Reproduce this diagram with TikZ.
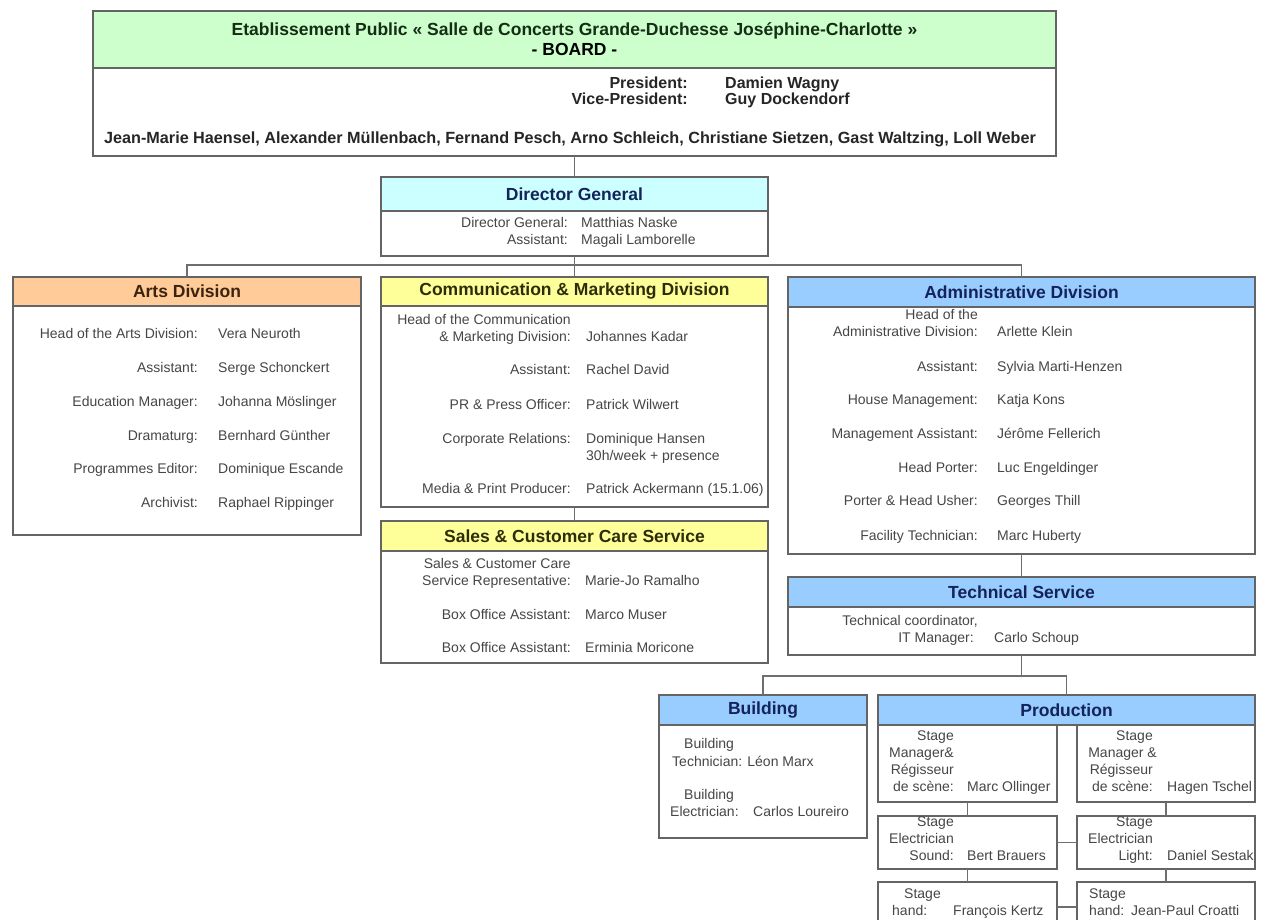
\documentclass[tikz,border=0pt]{standalone}
\usepackage{fontspec}
\setmainfont{Liberation Sans}
\definecolor{bordc}{RGB}{100,100,100}
\definecolor{connc}{RGB}{110,110,110}
\definecolor{greenH}{RGB}{204,255,204}
\definecolor{cyanH}{RGB}{204,255,255}
\definecolor{orangeH}{RGB}{255,204,153}
\definecolor{yellowH}{RGB}{255,255,153}
\definecolor{blueH}{RGB}{153,204,255}
\definecolor{navyT}{RGB}{20,35,90}
\definecolor{brownT}{RGB}{60,35,15}
\definecolor{oliveT}{RGB}{45,45,10}
\definecolor{greenT}{RGB}{20,45,20}
\definecolor{bodyT}{RGB}{70,70,70}
\newcommand{\fbody}{\fontsize{14}{17}\selectfont}
\newcommand{\fhead}{\fontsize{17.5}{20}\selectfont\bfseries}
\tikzset{
  bodybox/.style={draw=bordc, line width=1.3pt, fill=white, inner sep=0pt, outer sep=0pt},
  headbox/.style={draw=bordc, line width=1.3pt, inner sep=0pt, outer sep=0pt, font=\fhead, align=center},
  lab/.style={font=\fbody, text=bodyT, inner sep=0pt, text height=10pt, text depth=3pt},
  blab/.style={font=\fontsize{16}{17}\selectfont\bfseries, text=black!85, inner sep=0pt, text height=11pt, text depth=3pt},
  conn/.style={draw=connc, line width=1.2pt},
}
% name, x, y, width, total height, header height, fill, title
\newcommand{\orgbox}[8]{%
  \node[bodybox, minimum width=#4pt, minimum height=#5pt, anchor=north west] (#1) at (#2,#3) {};
  \node[headbox, fill=#7, minimum width=#4pt, minimum height=#6pt, anchor=north west] (#1H) at (#2,#3) {#8};
}
% name, label end, value start, y, label, value
\newcommand{\lrow}[6]{%
  \node[lab, anchor=east] (#1l) at (#2,#4) {#5};
  \node[lab, anchor=west] (#1v) at (#3,#4) {#6};
}
% right-aligned single text: name, x, y, text
\newcommand{\rtext}[4]{\node[lab, anchor=east] (#1) at (#2,#3) {#4};}
% left-aligned single text: name, x, y, text
\newcommand{\ltext}[4]{\node[lab, anchor=west] (#1) at (#2,#3) {#4};}
\begin{document}
\begin{tikzpicture}[x=1pt,y=-1pt]
\clip (0,0) rectangle (1265,920);
\fill[white] (0,0) rectangle (1265,920);

\coordinate (busA) at (574.5,265);
\coordinate (busB) at (1021.5,676);

% ---------- Board ----------
\orgbox{board}{93}{11}{963}{145}{57}{greenH}{\fontsize{17.5}{17}\selectfont\color{greenT}Etablissement Public « Salle de Concerts Grande-Duchesse Joséphine-Charlotte »\\ - BOARD -}
\node[blab, anchor=east] (presl) at (688,85) {President:};
\node[blab, anchor=west] (presv) at (725,85) {Damien Wagny};
\node[blab, anchor=east] (vicel) at (688,101) {Vice-President:};
\node[blab, anchor=west] (vicev) at (725,101) {Guy Dockendorf};
\node[blab, font=\fontsize{16.2}{17}\selectfont\bfseries] (members) at (570,140) {Jean-Marie Haensel, Alexander Müllenbach, Fernand Pesch, Arno Schleich, Christiane Sietzen, Gast Waltzing, Loll Weber};

% ---------- Director General ----------
\orgbox{dg}{381}{177}{387}{79}{34}{cyanH}{\color{navyT}Director General}
\lrow{dga}{568}{581}{224}{Director General:}{Matthias Naske}
\lrow{dgb}{568}{581}{241}{Assistant:}{Magali Lamborelle}

% ---------- Arts ----------
\orgbox{arts}{13}{277}{348}{258}{29}{orangeH}{\color{brownT}Arts Division}
\lrow{ara}{198}{218}{335}{Head of the Arts Division:}{Vera Neuroth}
\lrow{arb}{198}{218}{369}{Assistant:}{Serge Schonckert}
\lrow{arc}{198}{218}{403}{Education Manager:}{Johanna Möslinger}
\lrow{ard}{198}{218}{437}{Dramaturg:}{Bernhard Günther}
\lrow{are}{198}{218}{470}{Programmes Editor:}{Dominique Escande}
\lrow{arf}{198}{218}{504}{Archivist:}{Raphael Rippinger}

% ---------- Communication ----------
\orgbox{comm}{381}{277}{387}{230}{29}{yellowH}{\color{oliveT}Communication \& Marketing Division}
\rtext{cma0}{571}{321}{Head of the Communication}
\lrow{cma}{571}{586}{338}{\& Marketing Division:}{Johannes Kadar}
\lrow{cmb}{571}{586}{371}{Assistant:}{Rachel David}
\lrow{cmc}{571}{586}{406}{PR \& Press Officer:}{Patrick Wilwert}
\lrow{cmd}{571}{586}{440}{Corporate Relations:}{Dominique Hansen}
\ltext{cmd2}{586}{457}{30h/week + presence}
\lrow{cme}{571}{586}{490}{Media \& Print Producer:}{Patrick Ackermann (15.1.06)}

% ---------- Sales ----------
\orgbox{sales}{381}{521}{387}{142}{30}{yellowH}{\color{oliveT}Sales \& Customer Care Service}
\rtext{sla0}{571}{565}{Sales \& Customer Care}
\lrow{sla}{571}{585}{582}{Service Representative:}{Marie-Jo Ramalho}
\lrow{slb}{571}{585}{616}{Box Office Assistant:}{Marco Muser}
\lrow{slc}{571}{585}{649}{Box Office Assistant:}{Erminia Moricone}

% ---------- Administrative ----------
\orgbox{adm}{788}{277}{467}{277}{30}{blueH}{\color{navyT}Administrative Division}
\rtext{ada0}{978}{316}{Head of the}
\lrow{ada}{978}{997}{333}{Administrative Division:}{Arlette Klein}
\lrow{adb}{978}{997}{368}{Assistant:}{Sylvia Marti-Henzen}
\lrow{adc}{978}{997}{401}{House Management:}{Katja Kons}
\lrow{add}{978}{997}{435}{Management Assistant:}{Jérôme Fellerich}
\lrow{ade}{978}{997}{469}{Head Porter:}{Luc Engeldinger}
\lrow{adf}{978}{997}{502}{Porter \& Head Usher:}{Georges Thill}
\lrow{adg}{978}{997}{537}{Facility Technician:}{Marc Huberty}

% ---------- Technical ----------
\orgbox{tech}{788}{577}{467}{78}{30}{blueH}{\color{navyT}Technical Service}
\rtext{tca0}{978}{622}{Technical coordinator,}
\lrow{tca}{974}{994}{639}{IT Manager:}{Carlo Schoup}

% ---------- Building ----------
\orgbox{bld}{659}{695}{208}{143}{30}{blueH}{\color{navyT}Building}
\ltext{bda0}{684}{745}{Building}
\ltext{bda}{672}{763}{Technician: Léon Marx}
\ltext{bdb0}{684}{796}{Building}
\ltext{bdb}{670}{813}{Electrician:}
\ltext{bdbv}{753}{813}{Carlos Loureiro}

% ---------- Production ----------
\node[headbox, fill=blueH, minimum width=377pt, minimum height=30pt, anchor=north west] (prodH) at (878,695) {\color{navyT}Production};
\node[bodybox, minimum width=179pt, minimum height=77pt, anchor=north west] (p1L) at (878,725) {};
\node[bodybox, minimum width=178pt, minimum height=77pt, anchor=north west] (p1R) at (1077,725) {};
\node[bodybox, minimum width=179pt, minimum height=53pt, anchor=north west] (p2L) at (878,816) {};
\node[bodybox, minimum width=178pt, minimum height=53pt, anchor=north west] (p2R) at (1077,816) {};
\node[bodybox, minimum width=179pt, minimum height=50pt, anchor=north west] (p3L) at (878,882) {};
\node[bodybox, minimum width=178pt, minimum height=50pt, anchor=north west] (p3R) at (1077,882) {};

\rtext{p1La}{954}{737}{Stage}
\rtext{p1Lb}{954}{754}{Manager\&}
\rtext{p1Lc}{954}{771}{Régisseur}
\lrow{p1Ld}{954}{967}{788}{de scène:}{Marc Ollinger}
\rtext{p1Ra}{1153}{737}{Stage}
\rtext{p1Rb}{1157}{754}{Manager \&}
\rtext{p1Rc}{1153}{771}{Régisseur}
\lrow{p1Rd}{1153}{1167}{788}{de scène:}{Hagen Tschel}

\rtext{p2La}{954}{823}{Stage}
\rtext{p2Lb}{954}{840}{Electrician}
\lrow{p2Lc}{954}{967}{857}{Sound:}{Bert Brauers}
\rtext{p2Ra}{1153}{823}{Stage}
\rtext{p2Rb}{1153}{840}{Electrician}
\lrow{p2Rc}{1153}{1167}{857}{Light:}{Daniel Sestak}

\ltext{p3La}{904}{895}{Stage}
\ltext{p3Lb}{892}{912}{hand:}
\ltext{p3Lv}{953}{912}{François Kertz}
\ltext{p3Ra}{1089}{895}{Stage}
\ltext{p3Rb}{1089}{912}{hand:}
\ltext{p3Rv}{1131}{912}{Jean-Paul Croatti}

% ---------- connectors ----------
\draw[conn] (board.south) -- (dgH.north);
\draw[conn] (dg.south) -- (busA);
\draw[conn] (busA) -| (artsH.north);
\draw[conn] (busA) -| (admH.north);
\draw[conn] (busA) -- (commH.north);
\draw[conn] (comm.south) -- (salesH.north);
\draw[conn] (adm.south) -- (techH.north);
\draw[conn] (tech.south) -- (busB);
\draw[conn] (busB) -| (bldH.north);
\draw[conn] (busB) -| (prodH.north);
\draw[conn] (p1L.south) -- (p2L.north);
\draw[conn] (p2L.south) -- (p3L.north);
\draw[conn] (p1R.south) -- (p2R.north);
\draw[conn] (p2R.south) -- (p3R.north);
\draw[conn] (p2L.east) -- (p2R.west);
\draw[conn] (p3L.east) -- (p3R.west);
\end{tikzpicture}
\end{document}
